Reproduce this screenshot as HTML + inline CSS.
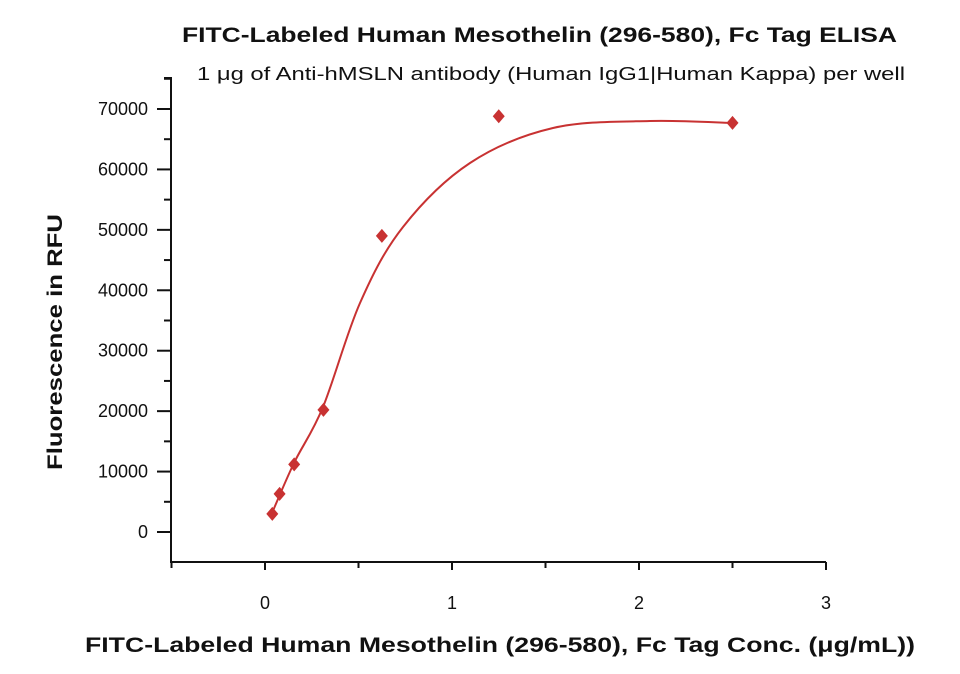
<!DOCTYPE html>
<html><head><meta charset="utf-8"><style>
body{margin:0;background:#fff;width:960px;height:674px;overflow:hidden}
svg{display:block}
text{font-family:"Liberation Sans",sans-serif;fill:#111}
</style></head><body>
<svg id="s" width="960" height="674" viewBox="0 0 960 674">
<text x="182" y="42" font-size="21" font-weight="bold" textLength="715" lengthAdjust="spacingAndGlyphs">FITC-Labeled Human Mesothelin (296-580), Fc Tag ELISA</text>
<text x="197" y="80" font-size="18" textLength="708" lengthAdjust="spacingAndGlyphs">1 μg of Anti-hMSLN antibody (Human IgG1|Human Kappa) per well</text>
<text x="85" y="652" font-size="21" font-weight="bold" textLength="830" lengthAdjust="spacingAndGlyphs">FITC-Labeled Human Mesothelin (296-580), Fc Tag Conc. (μg/mL))</text>
<text transform="translate(62,470) rotate(-90)" font-size="21" font-weight="bold" textLength="256" lengthAdjust="spacingAndGlyphs">Fluorescence in RFU</text>
<g stroke="#111" stroke-width="2" fill="none">
<path d="M164 78H171V562H826"/>
</g>
<g id="ax"></g>
<path id="curve" fill="none" stroke="#c83232" stroke-width="2"/>
<g id="pts" fill="#c83232"></g>
</svg>
<script>
var ns="http://www.w3.org/2000/svg",ax=document.getElementById('ax');
function X(x){return 265+187*x}function Y(y){return 532-y*0.006043}
function el(t,a,p,txt){var e=document.createElementNS(ns,t);for(var k in a)e.setAttribute(k,a[k]);if(txt!=null)e.textContent=txt;p.appendChild(e);return e}
for(var v=0;v<=75000;v+=5000){var yy=Y(v),maj=v%10000==0;el('line',{x1:maj?157:164,x2:171,y1:yy,y2:yy,stroke:'#111','stroke-width':2},ax);
if(maj&&v<=70000)el('text',{x:148,y:yy+6,'text-anchor':'end','font-size':18},ax,v);}
for(var k=-1;k<=6;k++){var w=k*0.5,xx=X(w),mj=(k%2==0);el('line',{x1:xx,x2:xx,y1:562,y2:mj?570:568,stroke:'#111','stroke-width':2},ax);
if(mj)el('text',{x:xx,y:609,'text-anchor':'middle','font-size':18},ax,k/2);}
var C=[[272,513],[294,463],[323,407],[360,303],[403,227],[470,163],[553,128],[650,121],[733,123]];
var d='M'+C[0][0]+' '+C[0][1];
for(var i=0;i<C.length-1;i++){var p0=C[Math.max(0,i-1)],p1=C[i],p2=C[i+1],p3=C[Math.min(C.length-1,i+2)];
d+='C'+(p1[0]+(p2[0]-p0[0])/6).toFixed(1)+' '+(p1[1]+(p2[1]-p0[1])/6).toFixed(1)+' '+(p2[0]-(p3[0]-p1[0])/6).toFixed(1)+' '+(p2[1]-(p3[1]-p1[1])/6).toFixed(1)+' '+p2[0]+' '+p2[1];}
document.getElementById('curve').setAttribute('d',d);
var P=[[0.039,3000],[0.078,6300],[0.156,11200],[0.3125,20200],[0.625,49000],[1.25,68800],[2.5,67700]],g=document.getElementById('pts');
P.forEach(function(p){var x=X(p[0]),y=Y(p[1]);el('path',{d:'M'+x+' '+(y-7)+'L'+(x+6)+' '+y+'L'+x+' '+(y+7)+'L'+(x-6)+' '+y+'Z'},g);});
</script>
</body></html>
